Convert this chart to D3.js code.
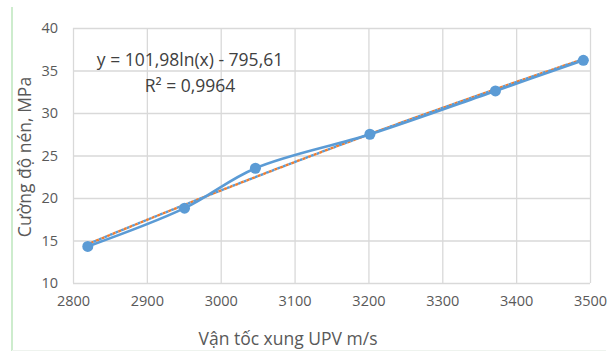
<!DOCTYPE html>
<html>
<head>
<meta charset="utf-8">
<script src="https://cdn.jsdelivr.net/npm/d3@7"></script>
<style>
  body { margin: 0; background: #fff; }
  svg { display: block; font-family: "Open Sans", sans-serif; }
</style>
</head>
<body>
<script>
// data
var velocity = [2820, 2951, 3047, 3202, 3372, 3491];
var strength = [14.3, 18.8, 23.5, 27.5, 32.6, 36.2];
var xTicks = [2800, 2900, 3000, 3100, 3200, 3300, 3400, 3500];
var yTicks = [10, 15, 20, 25, 30, 35, 40];
var fitA = 101.98, fitB = -795.61;
var eqLabel = "y = 101,98ln(x) - 795,61";
var r2Label = "R² = 0,9964";

var w = 611, h = 353;
var m = {left: 73, right: 21, top: 28, bottom: 70};

var svg = d3.select("body").append("svg")
  .attr("width", w)
  .attr("height", h);

// frame edges of the pasted picture
svg.append("line").attr("x1", 12).attr("x2", 12).attr("y1", 7).attr("y2", 351)
  .attr("stroke", "#cdeccd").attr("stroke-width", 2);
svg.append("line").attr("x1", 12).attr("x2", 606).attr("y1", 350.5).attr("y2", 350.5)
  .attr("stroke", "#eef3ee").attr("stroke-width", 1);

var x = d3.scaleLinear().domain([2800, 3500]).range([m.left, w - m.right]);
var y = d3.scaleLinear().domain([10, 40]).range([h - m.bottom, m.top]);

// grid
svg.append("g")
  .attr("transform", "translate(0," + (h - m.bottom) + ")")
  .call(d3.axisBottom(x).tickValues(xTicks).tickSize(-(h - m.bottom - m.top)).tickFormat(""))
  .call(function(g){ g.select(".domain").remove(); })
  .selectAll("line").attr("stroke", "#d9d9d9").attr("stroke-width", 1.3);

svg.append("g")
  .attr("transform", "translate(" + m.left + ",0)")
  .call(d3.axisLeft(y).tickValues(yTicks).tickSize(-(w - m.right - m.left)).tickFormat(""))
  .call(function(g){ g.select(".domain").remove(); })
  .selectAll("line").attr("stroke", "#d9d9d9").attr("stroke-width", 1.3);

// tick labels
var xAxis = svg.append("g")
  .attr("transform", "translate(0," + (h - m.bottom) + ")")
  .call(d3.axisBottom(x).tickValues(xTicks).tickSize(0).tickPadding(13).tickFormat(d3.format("d")));
xAxis.select(".domain").remove();
xAxis.selectAll("text").attr("fill", "#595959").style("font-size", "14.5px")
  .style("font-family", "Open Sans, sans-serif");

var yAxis = svg.append("g")
  .attr("transform", "translate(" + m.left + ",0)")
  .call(d3.axisLeft(y).tickValues(yTicks).tickSize(0).tickPadding(15));
yAxis.select(".domain").remove();
yAxis.selectAll("text").attr("fill", "#595959").style("font-size", "14.5px")
  .style("font-family", "Open Sans, sans-serif");

// axis titles
svg.append("text")
  .attr("transform", "translate(31,157) rotate(-90)")
  .attr("text-anchor", "middle")
  .attr("fill", "#595959")
  .style("font-size", "17.5px")
  .text("Cường độ nén, MPa");

svg.append("text")
  .attr("x", 288).attr("y", 345)
  .attr("text-anchor", "middle")
  .attr("fill", "#595959")
  .style("font-size", "17.5px")
  .text("Vận tốc xung UPV m/s");

// data line (smoothed)
var pts = velocity.map(function(v, i){ return [v, strength[i]]; });
var line = d3.line()
  .x(function(d){ return x(d[0]); })
  .y(function(d){ return y(d[1]); })
  .curve(d3.curveCatmullRom.alpha(0.5));

// trend line (log fit)
var trendPts = d3.range(velocity[0], velocity[velocity.length - 1] + 1, 10)
  .map(function(v){ return [v, fitA * Math.log(v) + fitB]; });
var trend = d3.line()
  .x(function(d){ return x(d[0]); })
  .y(function(d){ return y(d[1]); });

svg.append("path").datum(trendPts).attr("d", trend)
  .attr("fill", "none").attr("stroke", "#5b9bd5").attr("stroke-width", 2.4)
  .attr("stroke-dasharray", "3,3");
svg.append("path").datum(trendPts).attr("d", trend)
  .attr("fill", "none").attr("stroke", "#ed7d31").attr("stroke-width", 2.4)
  .attr("stroke-dasharray", "3,3").attr("stroke-dashoffset", 3);

svg.append("path").datum(pts).attr("d", line)
  .attr("fill", "none").attr("stroke", "#5b9bd5").attr("stroke-width", 2.6);

svg.selectAll("circle.pt")
  .data(pts)
  .enter().append("circle")
  .attr("class", "pt")
  .attr("cx", function(d){ return x(d[0]); })
  .attr("cy", function(d){ return y(d[1]); })
  .attr("r", 5.5)
  .attr("fill", "#5b9bd5");

// equation labels
svg.append("text")
  .attr("x", 190).attr("y", 66)
  .attr("text-anchor", "middle")
  .attr("fill", "#404040")
  .style("font-size", "17.5px")
  .text(eqLabel);
svg.append("text")
  .attr("x", 190).attr("y", 92)
  .attr("text-anchor", "middle")
  .attr("fill", "#404040")
  .style("font-size", "17.5px")
  .text(r2Label);
</script>
</body>
</html>
